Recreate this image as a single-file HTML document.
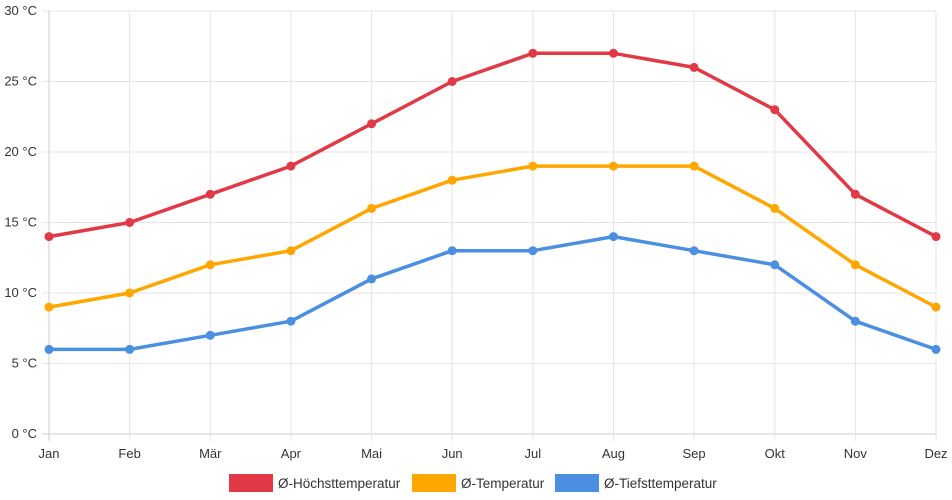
<!DOCTYPE html>
<html><head><meta charset="utf-8"><style>
html,body{margin:0;padding:0;background:#fff;}
svg{display:block;font-family:"Liberation Sans",sans-serif;}
</style></head><body>
<svg id="chart" width="952" height="500"></svg>
<script>
const months=["Jan","Feb","Mär","Apr","Mai","Jun","Jul","Aug","Sep","Okt","Nov","Dez"];
const maxTemp=[14,15,17,19,22,25,27,27,26,23,17,14];
const avgTemp=[9,10,12,13,16,18,19,19,19,16,12,9];
const minTemp=[6,6,7,8,11,13,13,14,13,12,8,6];
const yTicks=[0,5,10,15,20,25,30];
const seriesNames=["Ø-Höchsttemperatur","Ø-Temperatur","Ø-Tiefsttemperatur"];

const NS="http://www.w3.org/2000/svg";
const svg=document.getElementById('chart');
const L=49,R=936,T=11,B=434;
const x=i=>L+(R-L)*i/(months.length-1);
const y=v=>B-(B-T)*v/30;
function mk(tag,attrs,parent){const e=document.createElementNS(NS,tag);for(const k in attrs)e.setAttribute(k,attrs[k]);(parent||svg).appendChild(e);return e;}

yTicks.forEach(v=>{
  const g=mk('line',{x1:L-7,x2:R,y1:y(v),y2:y(v),stroke:v===0?'#ccc':'#e5e5e5','stroke-width':1});
  
  
  const t=mk('text',{x:37,y:y(v)+4,'text-anchor':'end','font-size':13,fill:'#333'});
  t.textContent=v+' °C';
  
  
});
months.forEach((m,i)=>{
  const g=mk('line',{x1:x(i),x2:x(i),y1:T,y2:B+7,stroke:i===0?'#ccc':'#e5e5e5','stroke-width':1});
  
  
  const t=mk('text',{x:x(i),y:458,'text-anchor':'middle','font-size':13,fill:'#333'});
  t.textContent=m;
  
  
});

const series=[[maxTemp,'#e13a46','max-temp'],[avgTemp,'#ffa600','avg-temp'],[minTemp,'#4a8fe0','min-temp']];
series.forEach(([d,c,n])=>{
  const p=mk('polyline',{points:d.map((v,i)=>x(i)+','+y(v)).join(' '),fill:'none',stroke:c,'stroke-width':3.5,'stroke-linejoin':'round'});
  
  
  d.forEach((v,i)=>{
    const pt=mk('circle',{cx:x(i),cy:y(v),r:4.5,fill:c});
    
    
  });
});

const legX=[229,412,555];
series.forEach(([d,c,n],k)=>{
  const r=mk('rect',{x:legX[k],y:474,width:44,height:18,fill:c});
  
  
  const t=mk('text',{x:legX[k]+49,y:488,'font-size':13.5,fill:'#333'});
  t.textContent=seriesNames[k];
  
  
});
</script>
</body></html>
